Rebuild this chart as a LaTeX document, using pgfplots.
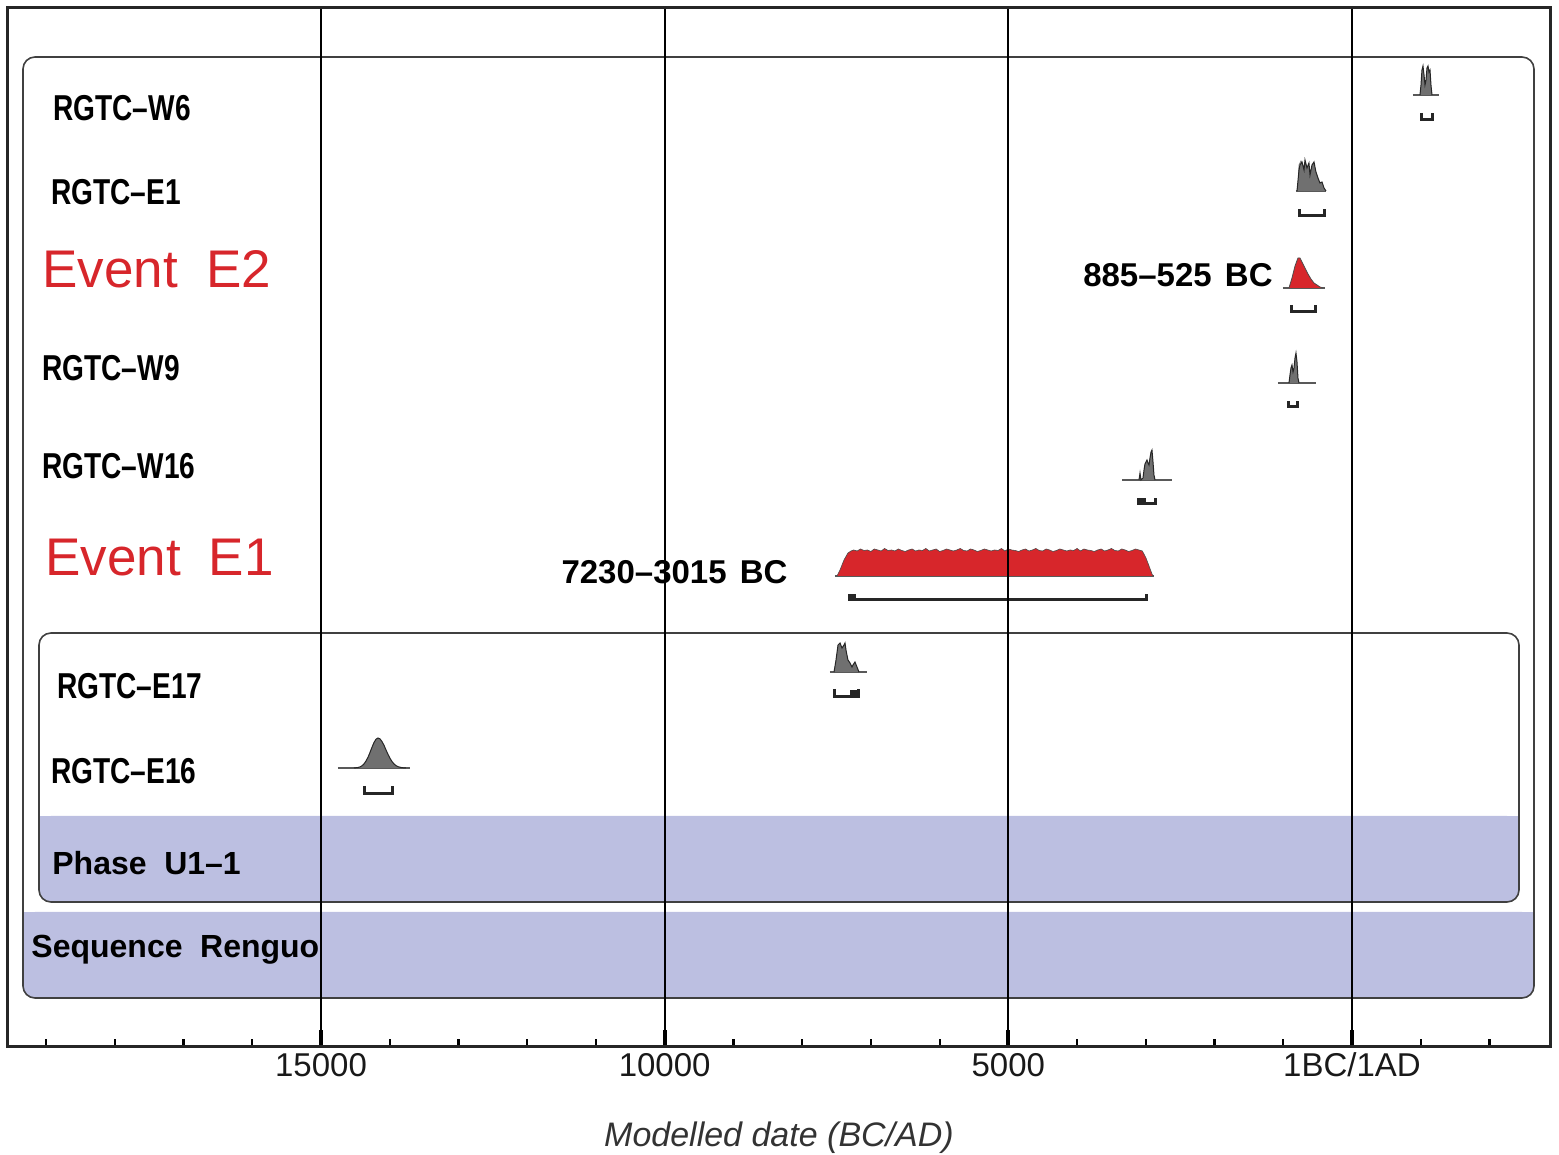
\documentclass[border=0pt]{standalone}
\usepackage{fontspec}
\setmainfont{Liberation Sans}
\newfontfamily\labfont[FakeStretch=0.78]{Liberation Sans}
\usepackage{pgfplots}
\pgfplotsset{compat=1.18}
\definecolor{evred}{RGB}{215,38,43}
\definecolor{lav}{RGB}{188,191,225}
\definecolor{dist}{RGB}{112,112,112}
\definecolor{prior}{RGB}{195,195,195}
\begin{document}
\begin{tikzpicture}
\path[use as bounding box] (0,0) rectangle (779.5pt,577.5pt);
\begin{axis}[
 at={(4pt,54pt)}, anchor=south west,
 scale only axis, width=771pt, height=519.5pt,
 xmin=-19554, xmax=2881, ymin=0, ymax=1039,
 axis on top,
 scaled x ticks=false,
 xtick={-15000,-10000,-5000,0},
 xticklabels={15000,10000,5000,1BC/1AD},
 minor xtick={-19000,-18000,...,2000},
 ytick=\empty,
 xtick pos=bottom, tick align=inside,
 major tick length=8.5pt, minor tick length=4pt,
 major tick style={line width=2pt, black},
 minor tick style={line width=1.1pt, black},
 xmajorgrids, major grid style={line width=0.9pt, black},
 axis line style={line width=1.5pt, black!85},
 /pgf/number format/assume math mode=true,
 xticklabel style={font=\fontsize{16.5}{18}\selectfont, text=black!90, anchor=base, yshift=-15pt},
 xlabel={Modelled date (BC/AD)},
 xlabel style={font=\fontsize{17}{19}\selectfont\itshape, text=black!80, at={(axis description cs:0.5,0)}, anchor=base, yshift=-50pt},
 br/.style={black!85, line width=1.5pt},
 bl/.style={black!65, line width=0.6pt},
 dg/.style={fill=dist, draw=black!85, line width=0.5pt},
 rd/.style={fill=evred, draw=black!70, line width=0.4pt},
]
% boxes
\fill[lav, rounded corners=6pt] (axis cs:-19336,49) rectangle (axis cs:2648,135);
\fill[lav] (axis cs:-19336,100) rectangle (axis cs:2648,135);
\fill[lav, rounded corners=6pt] (axis cs:-19103,145) rectangle (axis cs:2430,231);
\fill[lav] (axis cs:-19103,190) rectangle (axis cs:2430,231);
\draw[black!75, line width=0.8pt, rounded corners=6pt] (axis cs:-19336,49) rectangle (axis cs:2648,990);
\draw[black!75, line width=0.8pt, rounded corners=6pt] (axis cs:-19103,145) rectangle (axis cs:2430,414);

% RGTC-W6
\addplot[bl] coordinates {(887,952) (1266,952)};
\addplot[dg] coordinates {(989,952) (1004,962) (1018,977) (1033,981) (1048,972) (1062,962) (1077,967) (1091,979) (1106,981) (1120,975) (1135,977) (1149,962) (1164,952)};
\addplot[br] coordinates {(1004,934) (1004,927) (1178,927) (1178,934)};

% RGTC-E1
\addplot[bl] coordinates {(-815,856) (-378,856)};
\addplot[fill=prior, draw=black!50, line width=0.4pt] coordinates {(-786,856) (-771,882) (-742,886) (-713,882) (-684,856)};
\addplot[dg] coordinates {(-800,856) (-771,877) (-757,882) (-727,885) (-698,877) (-684,887) (-655,879) (-626,884) (-611,872) (-582,882) (-553,885) (-524,875) (-495,869) (-466,864) (-436,865) (-407,859) (-378,856)};
\addplot[br] coordinates {(-771,838) (-771,831) (-393,831) (-393,838)};

% Event E2
\addplot[bl] coordinates {(-1004,759) (-393,759)};
\addplot[rd] coordinates {(-917,759) (-873,769) (-829,781) (-786,789) (-757,789) (-727,785) (-684,779) (-640,773) (-597,768) (-553,764) (-509,762) (-466,760) (-422,759)};
\addplot[br] coordinates {(-885,742) (-885,735) (-525,735) (-525,742)};

% RGTC-W9
\addplot[bl] coordinates {(-1077,664) (-524,664)};
\addplot[dg] coordinates {(-917,664) (-902,672) (-888,679) (-873,682) (-858,675) (-844,679) (-829,689) (-815,694) (-800,685) (-786,669) (-771,664)};
\addplot[br] coordinates {(-917,646) (-917,640) (-786,640) (-786,646)};

% RGTC-W16
\addplot[bl] coordinates {(-3346,567) (-2619,567)};
\addplot[dg] coordinates {(-3099,567) (-3084,574) (-3070,567) (-3041,569) (-3026,577) (-3012,583) (-2983,587) (-2968,584) (-2953,582) (-2939,589) (-2924,595) (-2910,597) (-2895,585) (-2881,572) (-2866,567)};
\addplot[br] coordinates {(-3113,549) (-3113,543) (-2866,543) (-2866,549)};
\addplot[fill=black!85, draw=none] coordinates {(-3113,543) (-3113,549) (-2997,549) (-2997,543)};

% Event E1
\addplot[bl] coordinates {(-7522,471) (-2881,471)};
\addplot[rd, line width=0.3pt] coordinates {(-7493,471) (-7449,477) (-7391,487) (-7333,494) (-7289,496)
(-7250,497) (-7200,496) (-7150,498) (-7100,496.5) (-7050,497) (-7000,495.5) (-6950,498) (-6900,497) (-6850,496) (-6800,498.5)
(-6750,496.5) (-6700,497) (-6650,496) (-6600,498) (-6550,496.5) (-6500,495.5) (-6450,497) (-6400,498) (-6350,496) (-6300,497)
(-6250,496.5) (-6200,498.5) (-6150,496) (-6100,497) (-6050,498) (-6000,495.5) (-5950,496.5) (-5900,498) (-5850,497) (-5800,496)
(-5750,497) (-5700,498.5) (-5650,496.5) (-5600,496) (-5550,498) (-5500,497) (-5450,495.5) (-5400,496.5) (-5350,498) (-5300,497)
(-5250,496) (-5200,497) (-5150,496.5) (-5100,498.5) (-5050,496) (-5000,498) (-4950,497) (-4900,496.5) (-4850,495.5) (-4800,497)
(-4750,498) (-4700,496) (-4650,497) (-4600,498.5) (-4550,496.5) (-4500,496) (-4450,498) (-4400,497) (-4350,495.5) (-4300,496.5)
(-4250,498) (-4200,497) (-4150,496) (-4100,497) (-4050,496.5) (-4000,498.5) (-3950,496) (-3900,498) (-3850,497) (-3800,496.5)
(-3750,495.5) (-3700,497) (-3650,498) (-3600,496) (-3550,497) (-3500,498.5) (-3450,496.5) (-3400,496) (-3350,498) (-3300,497)
(-3250,495.5) (-3200,496.5) (-3150,498) (-3100,497) (-3050,496)
(-2997,489) (-2953,481) (-2910,473) (-2895,471)};
\addplot[br] coordinates {(-7318,453) (-7318,447) (-2997,447) (-2997,453)};
\addplot[fill=black!85, draw=none] coordinates {(-7318,447) (-7318,453) (-7216,453) (-7216,447)};

% RGTC-E17
\addplot[bl] coordinates {(-7595,375) (-7056,375)};
\addplot[dg] coordinates {(-7536,375) (-7507,387) (-7478,402) (-7449,404) (-7420,399) (-7391,402) (-7376,404) (-7362,397) (-7333,387) (-7304,384) (-7274,380) (-7260,382) (-7231,385) (-7202,380) (-7173,375)};
\addplot[br] coordinates {(-7522,358) (-7522,350) (-7173,350) (-7173,358)};
\addplot[fill=black!85, draw=none] coordinates {(-7304,350) (-7304,357) (-7173,357) (-7173,350)};

% RGTC-E16
\addplot[bl] coordinates {(-14753,279) (-13705,279)};
\addplot[dg] coordinates {(-14520,279) (-14462,279.5) (-14433,280.1) (-14404,281.2) (-14375,283.1) (-14346,285.9) (-14316,289.8) (-14287,294.6) (-14258,299.8) (-14229,304.5) (-14200,307.8) (-14171,309) (-14142,308.1) (-14113,305.5) (-14084,301.8) (-14055,297.2) (-14026,292.7) (-13996,288.7) (-13967,285.5) (-13938,283.1) (-13909,281.4) (-13880,280.3) (-13822,279.3) (-13764,279)};
\addplot[br] coordinates {(-14360,261) (-14360,253) (-13953,253) (-13953,261)};

% labels
\tikzset{lab/.style={anchor=base west, inner sep=0pt, font=\labfont\bfseries\fontsize{18}{20}\selectfont, text=black},
 ev/.style={anchor=base west, inner sep=0pt, font=\fontsize{26.5}{30}\selectfont, text=evred},
 rng/.style={anchor=base east, inner sep=0pt, font=\bfseries\fontsize{16.5}{18}\selectfont, text=black},
 grp/.style={anchor=base west, inner sep=0pt, font=\bfseries\fontsize{16}{18}\selectfont, text=black}}
\node[lab] at (axis cs:-18899,926) {RGTC–W6};
\node[lab] at (axis cs:-18928,842) {RGTC–E1};
\node[ev] at (axis cs:-19059,759) {Event\hspace{0.53em}E2};
\node[lab] at (axis cs:-19059,666) {RGTC–W9};
\node[lab] at (axis cs:-19059,568) {RGTC–W16};
\node[ev] at (axis cs:-19016,471) {Event\hspace{0.53em}E1};
\node[lab] at (axis cs:-18841,348) {RGTC–E17};
\node[lab] at (axis cs:-18928,263) {RGTC–E16};
\node[grp] at (axis cs:-18914,172) {Phase\hspace{0.55em}U1–1};
\node[grp] at (axis cs:-19219,89) {Sequence\hspace{0.55em}Renguo};
\node[rng] at (axis cs:-1149,760) {885–525\hspace{0.4em}BC};
\node[rng] at (axis cs:-8206,463) {7230–3015\hspace{0.4em}BC};
\end{axis}
\end{tikzpicture}
\end{document}
